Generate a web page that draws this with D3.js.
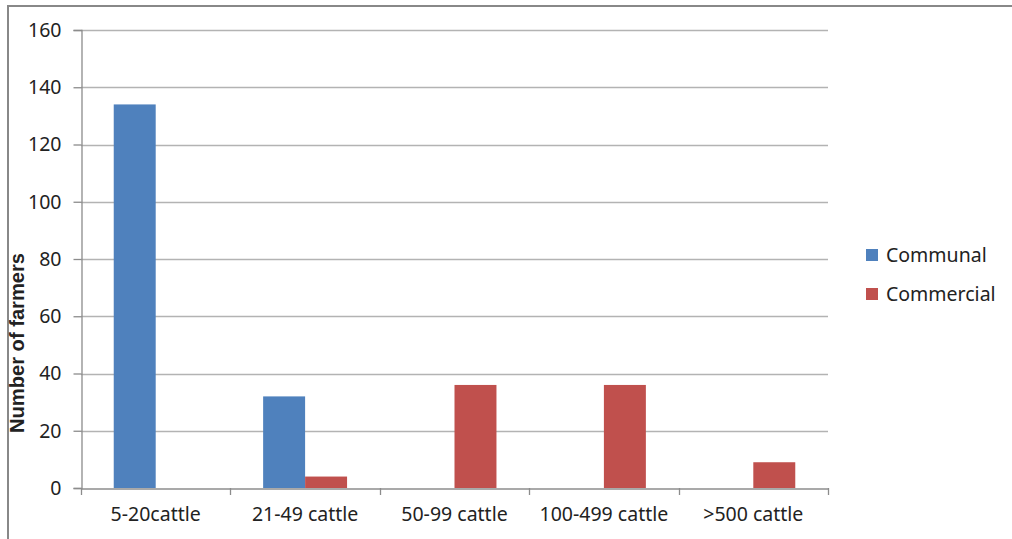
<!DOCTYPE html>
<html>
<head>
<meta charset="utf-8">
<script src="https://cdn.jsdelivr.net/npm/d3@7"></script>
<style>
  html, body { margin: 0; padding: 0; background: #fff; }
  svg { display: block; }
</style>
</head>
<body>
<svg id="chart" width="1012" height="539"></svg>
<script>
// Herd size classes and number of farmers per sector
const categories = ["5-20cattle", "21-49 cattle", "50-99 cattle", "100-499 cattle", ">500 cattle"];
const seriesNames = ["Communal", "Commercial"];
const communal = [134, 32, 0, 0, 0];
const commercial = [0, 4, 36, 36, 9];
const yTicks = [0, 20, 40, 60, 80, 100, 120, 140, 160];
const colors = ["#4F81BD", "#C0504D"];

const svg = d3.select("#chart");
const W = 1012, H = 539;
const m = { left: 81, right: 828, top: 30, bottom: 488 };
const FONT = "'Noto Sans', sans-serif";

// Outer frame (top and left edges visible)
svg.append("line").attr("x1", 7).attr("x2", W).attr("y1", 6).attr("y2", 6)
  .attr("stroke", "#888").attr("stroke-width", 2);
svg.append("line").attr("x1", 8).attr("x2", 8).attr("y1", 5).attr("y2", H)
  .attr("stroke", "#888").attr("stroke-width", 2);

const x = d3.scaleBand().domain(categories).range([m.left, m.right]);
const xs = d3.scaleBand().domain(seriesNames).range([0, x.bandwidth()]).paddingInner(0).paddingOuter(0.78);
const y = d3.scaleLinear().domain([0, 160]).range([m.bottom, m.top]);

// Horizontal gridlines
svg.append("g").selectAll("line").data(yTicks.filter(d => d > 0)).join("line")
  .attr("x1", m.left).attr("x2", m.right)
  .attr("y1", d => Math.round(y(d)) + 0.5).attr("y2", d => Math.round(y(d)) + 0.5)
  .attr("stroke", "#b3b3b3").attr("stroke-width", 1.3);

// Bars
const data = categories.map((c, i) => ({ cat: c, vals: [communal[i], commercial[i]] }));
const groups = svg.append("g").selectAll("g").data(data).join("g")
  .attr("transform", d => `translate(${x(d.cat)},0)`);
groups.selectAll("rect")
  .data(d => d.vals.map((v, j) => ({ name: seriesNames[j], v, j })).filter(e => e.v > 0))
  .join("rect")
  .attr("x", e => xs(e.name))
  .attr("width", xs.bandwidth())
  .attr("y", e => y(e.v))
  .attr("height", e => y(0) - y(e.v))
  .attr("fill", e => colors[e.j]);

// Y axis
const yAxis = d3.axisLeft(y).tickValues(yTicks).tickSize(8).tickPadding(12);
const gy = svg.append("g").attr("transform", `translate(${m.left + 0.5},0)`).call(yAxis);
gy.select(".domain").attr("stroke", "#8c8c8c").attr("stroke-width", 1.3);
gy.selectAll(".tick line").attr("stroke", "#8c8c8c").attr("stroke-width", 1.3);
gy.selectAll(".tick text").attr("font-family", FONT)
  .attr("font-size", 19.5).attr("fill", "#222");

// X axis
const xAxis = d3.axisBottom(x).tickSize(0).tickPadding(19);
const gx = svg.append("g").attr("transform", `translate(0,${m.bottom + 0.5})`).call(xAxis);
gx.select(".domain").attr("stroke", "#8c8c8c").attr("stroke-width", 1.3);
gx.selectAll(".tick text").attr("font-family", FONT)
  .attr("font-size", 19.5).attr("fill", "#222");
// Category boundary ticks
const bounds = categories.map(c => x(c)).concat([m.right]);
svg.append("g").selectAll("line").data(bounds).join("line")
  .attr("x1", d => Math.round(d) + 0.5).attr("x2", d => Math.round(d) + 0.5)
  .attr("y1", m.bottom).attr("y2", m.bottom + 7)
  .attr("stroke", "#8c8c8c").attr("stroke-width", 1.3);

// Y axis title
svg.append("text")
  .attr("transform", `translate(24,${(253 + 433) / 2}) rotate(-90)`)
  .attr("text-anchor", "middle")
  .attr("font-family", "'Liberation Sans', Arial, sans-serif")
  .attr("font-weight", "bold").attr("font-size", 20.5).attr("fill", "#222")
  .attr("textLength", 180).attr("lengthAdjust", "spacingAndGlyphs")
  .text("Number of farmers");

// Legend
const legend = svg.append("g").selectAll("g").data(seriesNames).join("g")
  .attr("transform", (d, i) => `translate(866,${249 + i * 39})`);
legend.append("rect").attr("width", 12).attr("height", 12).attr("fill", (d, i) => colors[i]);
legend.append("text").attr("x", 20).attr("y", 13)
  .attr("font-family", FONT).attr("font-size", 19.5).attr("fill", "#222")
  .text(d => d);
</script>
</body>
</html>
